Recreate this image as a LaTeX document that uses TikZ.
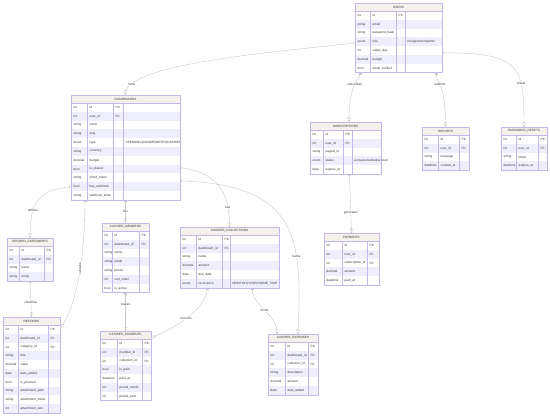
\documentclass[tikz,border=0pt]{standalone}
\usepackage{fontspec}
\setsansfont{Liberation Sans}
\usetikzlibrary{arrows.meta}

\definecolor{erborder}{HTML}{C6B6EE}
\definecolor{erhead}{HTML}{F3F1EA}
\definecolor{erstripe}{HTML}{EFEEFD}
\definecolor{erline}{HTML}{C8C8C8}
\definecolor{ertext}{HTML}{333333}

\tikzset{
  entity/.style={inner sep=0pt, outer sep=0pt},
  tabline/.style={draw=erborder, line width=0.4pt},
  cell/.style={anchor=west, inner sep=0pt, text=ertext, font=\sffamily\fontsize{3.1}{3.6}\selectfont},
  title/.style={inner sep=0pt, text=ertext, font=\sffamily\fontsize{3.1}{3.6}\selectfont},
  lbl/.style={fill=white, inner sep=0.4pt, text=ertext, font=\sffamily\fontsize{3.1}{3.6}\selectfont},
  rel/.style={draw=erline, line width=0.4pt,
    {Bar[width=3pt,sep=0.8pt]Bar[width=3pt]}-{Straight Barb[reversed,length=2pt,width=4pt,sep=0.5pt]Circle[open,length=2.2pt,width=2.2pt,fill=white]}}
}

% #1 name, #2 title, #3 left, #4 top, #5 right, #6 rows, #7 dividers, #8 attributes
\newcommand{\erentity}[8]{%
  \pgfmathsetmacro{\erbottom}{#4+8+#6*8.8}
  \node[entity, anchor=north west, minimum width={(#5-#3)*1pt}, minimum height={(\erbottom-#4)*1pt}] (#1) at (#3,#4) {};
  \fill[erhead] (#3,#4) rectangle (#5,#4+8);
  \node[title] (#1-title) at ({(#3+#5)/2},#4+4) {#2};
  \foreach \ca/\cb/\cc in {#7} {
    \foreach \ty/\nm/\ky/\cm [count=\i] in {#8} {
      \pgfmathsetmacro{\rt}{#4+8+(\i-1)*8.8}
      \ifodd\i\relax\else\fill[erstripe] (#3,\rt) rectangle (#5,\rt+8.8);\fi
      \node[cell] (#1-t\i) at (#3+2.5,\rt+4.4) {\ty};
      \node[cell] (#1-n\i) at (\ca+2.5,\rt+4.4) {\nm};
      \node[cell] (#1-k\i) at (\cb+2.5,\rt+4.4) {\ky};
      \node[cell] (#1-c\i) at (\cc+2.5,\rt+4.4) {\cm};
    }
    \draw[tabline] (\ca,#4+8) -- (\ca,\erbottom);
    \draw[tabline] (\cb,#4+8) -- (\cb,\erbottom);
    \draw[tabline] (\cc,#4+8) -- (\cc,\erbottom);
  }
  \draw[tabline] (#3,#4+8) -- (#5,#4+8);
  \draw[tabline] (#1.north west) rectangle (#1.south east);
}

\begin{document}
\begin{tikzpicture}[x=1pt,y=-1pt]
  \useasboundingbox[fill=white] (0,0) rectangle (550,416);

  % entities
  \erentity{users}{USERS}{355}{3}{442}{7}{370/396/405}{int/id/PK/, string/email//,
    string/password\_hash//, enum/role//free|premium|admin, int/salary\_day//,
    decimal/budget//, bool/email\_verified//}
  \erentity{dashboards}{DASHBOARDS}{71}{95}{180}{11}{87/113/123}{int/id/PK/, int/user\_id/FK/,
    string/name//, string/slug//, enum/type//SPENDING|INCOME|NOTES|CASHIER, string/currency//,
    decimal/budget//, bool/is\_shared//, string/share\_token//, bool/has\_webhook//,
    string/webhook\_token//}
  \erentity{subscriptions}{SUBSCRIPTIONS}{310}{122}{381}{5}{323/343/352}{int/id/PK/,
    int/user\_id/FK/, string/paypal\_id//, enum/status//active|cancelled|expired,
    date/expires\_at//}
  \erentity{reports}{REPORTS}{422}{127}{469}{4}{438/459/469}{int/id/PK/, int/user\_id/FK/,
    string/message//, datetime/created\_at//}
  \erentity{resets}{PASSWORD\_RESETS}{501}{127}{547}{4}{516/538/547}{int/id/PK/,
    int/user\_id/FK/, string/token//, datetime/expires\_at//}
  \erentity{categories}{RECORD\_CATEGORIES}{7}{238}{53}{4}{19/44/53}{int/id/PK/,
    int/dashboard\_id/FK/, string/name//, string/emoji//}
  \erentity{members}{CASHIER\_MEMBERS}{102}{223}{149}{7}{112/139/149}{int/id/PK/,
    int/dashboard\_id/FK/, string/name//, string/email//, string/phone//,
    int/sort\_order//, bool/is\_active//}
  \erentity{collections}{CASHIER\_COLLECTIONS}{180}{227}{279}{6}{196/222/230}{int/id/PK/,
    int/dashboard\_id/FK/, string/name//, decimal/amount//, date/due\_date//,
    enum/recurrence//MONTHLY|YEARLY|ONE\_TIME}
  \erentity{payments}{PAYMENTS}{324}{233}{379}{5}{342/367/379}{int/id/PK/, int/user\_id/FK/,
    int/subscription\_id/FK/, decimal/amount//, datetime/paid\_at//}
  \erentity{records}{RECORDS}{3}{317}{60}{10}{18/48/60}{int/id/PK/, int/dashboard\_id/FK/,
    int/category\_id/FK/, string/title//, decimal/value//, date/date\_added//,
    bool/is\_planned//, string/attachment\_path//, string/attachment\_mime//,
    int/attachment\_size//}
  \erentity{cpayments}{CASHIER\_PAYMENTS}{100}{331}{151}{7}{117/142/151}{int/id/PK/,
    int/member\_id/FK/, int/collection\_id/FK/, bool/is\_paid//, datetime/paid\_at//,
    int/period\_month//, int/period\_year//}
  \erentity{expenses}{CASHIER\_EXPENSES}{268}{334}{318}{6}{285/308/318}{int/id/PK/,
    int/dashboard\_id/FK/, int/collection\_id/FK/, string/description//,
    decimal/amount//, date/date\_added//}

  % relations
  \draw[rel] ([yshift=-5pt]users.west) .. controls (300,50) and (126,62) .. (dashboards.north) node[lbl,pos=0.89] {owns};
  \draw[rel] ([xshift=5pt]users.south west) .. controls (360,80) and (349,82) .. ([xshift=3.5pt]subscriptions.north) node[lbl,pos=0.48] {subscribes};
  \draw[rel] ([xshift=-6pt]users.south east) .. controls (436,82) and (445.5,82) .. (reports.north) node[lbl,pos=0.45] {submits};
  \draw[rel] ([yshift=-15pt]users.east) .. controls (520,53) and (524,65) .. (resets.north) node[lbl,pos=0.7] {resets};

  \draw[rel] ([yshift=13pt]dashboards.south west) .. controls (40,190) and (30,200) .. (categories.north) node[lbl,pos=0.7] {defines};
  \draw[rel] ([xshift=14pt]dashboards.south west) .. controls (85,260) and (75,310) .. ([yshift=-11pt]records.north east) node[lbl,pos=0.42,rotate=90] {contains};
  \draw[rel] (dashboards.south) -- (members.north) node[lbl,pos=0.5] {has};
  \draw[rel] ([yshift=32pt]dashboards.south east) .. controls (215,172) and (229.5,190) .. (collections.north) node[lbl,pos=0.8] {has};
  \draw[rel] ([yshift=19pt]dashboards.south east) .. controls (300,185) and (302,240) .. ([xshift=5pt]expenses.north) node[lbl,pos=0.68] {tracks};

  \draw[rel] (categories.south) -- (records.north) node[lbl,pos=0.6] {classifies};
  \draw[rel] (members.south) -- (cpayments.north) node[lbl,pos=0.3] {makes};
  \draw[rel] ([xshift=-22.5pt]collections.south) .. controls (207,310) and (170,330) .. ([yshift=-7pt]cpayments.north east) node[lbl,pos=0.5] {receives};
  \draw[rel] ([xshift=22.5pt]collections.south) .. controls (252,305) and (277,315) .. ([xshift=-16pt]expenses.north) node[lbl,pos=0.5] {funds};
  \draw[rel] ([xshift=4pt]subscriptions.south) -- (payments.north) node[lbl,pos=0.65] {generates};
\end{tikzpicture}
\end{document}
